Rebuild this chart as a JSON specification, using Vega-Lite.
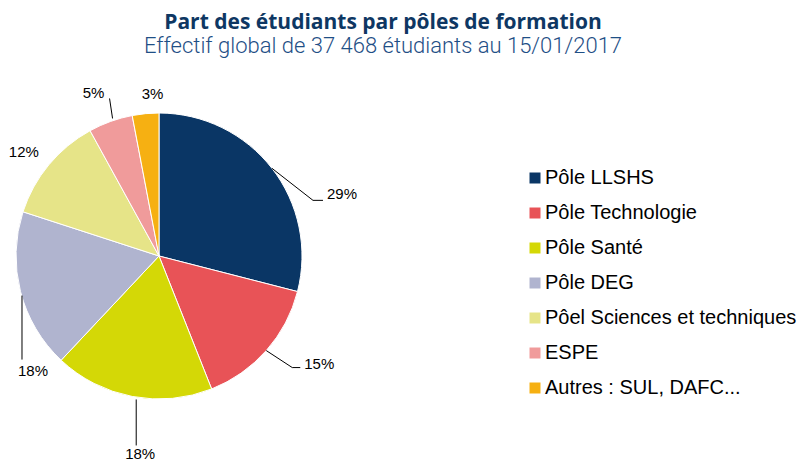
{
  "$schema": "https://vega.github.io/schema/vega-lite/v6.json",
  "width": 300,
  "height": 300,
  "autosize": "none",
  "padding": {"left": 9, "top": 106, "right": 491, "bottom": 57},
  "background": "white",
  "config": {
    "view": {"stroke": null},
    "text": {"font": "Liberation Sans", "fontSize": 15, "color": "#000000", "align": "center", "baseline": "middle"},
    "rule": {"color": "#000000", "strokeWidth": 1}
  },
  "title": {
    "text": "Part des étudiants par pôles de formation",
    "subtitle": "Effectif global de 37 468 étudiants au 15/01/2017",
    "anchor": "middle",
    "dx": 224,
    "offset": 29,
    "font": "Open Sans",
    "fontSize": 21,
    "fontWeight": "bold",
    "color": "#0e3763",
    "subtitleFont": "Roboto",
    "subtitleFontSize": 22,
    "subtitleFontWeight": 300,
    "subtitleColor": "#1f4f86",
    "subtitlePadding": 3
  },
  "data": {
    "values": [
      {"pole": "Pôle LLSHS", "value": 0.29},
      {"pole": "Pôle Technologie", "value": 0.15},
      {"pole": "Pôle Santé", "value": 0.18},
      {"pole": "Pôle DEG", "value": 0.18},
      {"pole": "Pôel Sciences et techniques", "value": 0.12},
      {"pole": "ESPE", "value": 0.05},
      {"pole": "Autres : SUL, DAFC...", "value": 0.03}
    ]
  },
  "transform": [
    {"stack": "value", "groupby": [], "as": ["v0", "v1"]},
    {"calculate": "(datum.v0 + datum.v1) / 2", "as": "mid"},
    {"calculate": "143 * sin(2 * PI * datum.mid)", "as": "x0"},
    {"calculate": "143 * cos(2 * PI * datum.mid)", "as": "y0"}
  ],
  "layer": [
    {
      "mark": {"type": "arc", "radius": 143, "stroke": "white", "strokeWidth": 1},
      "encoding": {
        "theta": {"field": "v0", "type": "quantitative", "stack": null, "scale": {"domain": [0, 1]}},
        "theta2": {"field": "v1"},
        "color": {
          "field": "pole",
          "type": "nominal",
          "sort": null,
          "scale": {
            "domain": ["Pôle LLSHS", "Pôle Technologie", "Pôle Santé", "Pôle DEG", "Pôel Sciences et techniques", "ESPE", "Autres : SUL, DAFC..."],
            "range": ["#0a3665", "#e85357", "#d4d806", "#b0b4cf", "#e6e488", "#f09b9b", "#f6b012"]
          },
          "legend": {
            "title": null,
            "orient": "none",
            "legendX": 516,
            "legendY": 62,
            "symbolType": "square",
            "symbolSize": 121,
            "symbolStrokeWidth": 0,
            "labelFont": "Liberation Sans",
            "labelFontSize": 20,
            "labelColor": "#000000",
            "rowPadding": 15,
            "labelOffset": 0,
            "padding": 0,
            "labelLimit": 400
          }
        }
      }
    },
    {
      "transform": [{"filter": "datum.pole == 'Pôle LLSHS'"}],
      "encoding": {
        "x": {"field": "x0", "type": "quantitative", "scale": {"domain": [-150, 150], "nice": false, "zero": false}, "axis": null},
        "y": {"field": "y0", "type": "quantitative", "scale": {"domain": [-150, 150], "nice": false, "zero": false}, "axis": null}
      },
      "layer": [
        {"mark": {"type": "rule", "x2Offset": 41, "y2Offset": 32}, "encoding": {"x2": {"field": "x0"}, "y2": {"field": "y0"}}},
        {"mark": {"type": "rule", "xOffset": 41, "x2Offset": 51, "yOffset": 32, "y2Offset": 32}, "encoding": {"x2": {"field": "x0"}, "y2": {"field": "y0"}}},
        {"mark": {"type": "text", "dx": 70, "dy": 26}, "encoding": {"text": {"field": "value", "type": "quantitative", "format": ".0%"}}}
      ]
    },
    {
      "transform": [{"filter": "datum.pole == 'Pôle Technologie'"}],
      "encoding": {
        "x": {"field": "x0", "type": "quantitative", "scale": {"domain": [-150, 150], "nice": false, "zero": false}, "axis": null},
        "y": {"field": "y0", "type": "quantitative", "scale": {"domain": [-150, 150], "nice": false, "zero": false}, "axis": null}
      },
      "layer": [
        {"mark": {"type": "rule", "x2Offset": 26, "y2Offset": 17}, "encoding": {"x2": {"field": "x0"}, "y2": {"field": "y0"}}},
        {"mark": {"type": "rule", "xOffset": 26, "x2Offset": 34, "yOffset": 17, "y2Offset": 17}, "encoding": {"x2": {"field": "x0"}, "y2": {"field": "y0"}}},
        {"mark": {"type": "text", "dx": 53, "dy": 13}, "encoding": {"text": {"field": "value", "type": "quantitative", "format": ".0%"}}}
      ]
    },
    {
      "transform": [{"filter": "datum.pole == 'Pôle Santé'"}],
      "encoding": {
        "x": {"field": "x0", "type": "quantitative", "scale": {"domain": [-150, 150], "nice": false, "zero": false}, "axis": null},
        "y": {"field": "y0", "type": "quantitative", "scale": {"domain": [-150, 150], "nice": false, "zero": false}, "axis": null}
      },
      "layer": [
        {"mark": {"type": "rule", "xOffset": 4, "x2Offset": 4, "yOffset": 3, "y2Offset": 49}, "encoding": {"x2": {"field": "x0"}, "y2": {"field": "y0"}}},
        {"mark": {"type": "text", "dx": 8, "dy": 58}, "encoding": {"text": {"field": "value", "type": "quantitative", "format": ".0%"}}}
      ]
    },
    {
      "transform": [{"filter": "datum.pole == 'Pôle DEG'"}],
      "encoding": {
        "x": {"field": "x0", "type": "quantitative", "scale": {"domain": [-150, 150], "nice": false, "zero": false}, "axis": null},
        "y": {"field": "y0", "type": "quantitative", "scale": {"domain": [-150, 150], "nice": false, "zero": false}, "axis": null}
      },
      "layer": [
        {"mark": {"type": "rule", "xOffset": 1.5, "x2Offset": 1.5, "yOffset": 4, "y2Offset": 68}, "encoding": {"x2": {"field": "x0"}, "y2": {"field": "y0"}}},
        {"mark": {"type": "text", "dx": 12.5, "dy": 79.5}, "encoding": {"text": {"field": "value", "type": "quantitative", "format": ".0%"}}}
      ]
    },
    {
      "transform": [{"filter": "datum.pole == 'Pôel Sciences et techniques'"}],
      "encoding": {
        "x": {"field": "x0", "type": "quantitative", "scale": {"domain": [-150, 150], "nice": false, "zero": false}, "axis": null},
        "y": {"field": "y0", "type": "quantitative", "scale": {"domain": [-150, 150], "nice": false, "zero": false}, "axis": null}
      },
      "layer": [
        {"mark": {"type": "text", "dx": -25, "dy": -13}, "encoding": {"text": {"field": "value", "type": "quantitative", "format": ".0%"}}}
      ]
    },
    {
      "transform": [{"filter": "datum.pole == 'ESPE'"}],
      "encoding": {
        "x": {"field": "x0", "type": "quantitative", "scale": {"domain": [-150, 150], "nice": false, "zero": false}, "axis": null},
        "y": {"field": "y0", "type": "quantitative", "scale": {"domain": [-150, 150], "nice": false, "zero": false}, "axis": null}
      },
      "layer": [
        {"mark": {"type": "rule", "xOffset": 2, "x2Offset": -1, "yOffset": -3, "y2Offset": -23}, "encoding": {"x2": {"field": "x0"}, "y2": {"field": "y0"}}},
        {"mark": {"type": "text", "dx": -17, "dy": -28}, "encoding": {"text": {"field": "value", "type": "quantitative", "format": ".0%"}}}
      ]
    },
    {
      "transform": [{"filter": "datum.pole == 'Autres : SUL, DAFC...'"}],
      "encoding": {
        "x": {"field": "x0", "type": "quantitative", "scale": {"domain": [-150, 150], "nice": false, "zero": false}, "axis": null},
        "y": {"field": "y0", "type": "quantitative", "scale": {"domain": [-150, 150], "nice": false, "zero": false}, "axis": null}
      },
      "layer": [
        {"mark": {"type": "text", "dx": 7, "dy": -20}, "encoding": {"text": {"field": "value", "type": "quantitative", "format": ".0%"}}}
      ]
    }
  ]
}
